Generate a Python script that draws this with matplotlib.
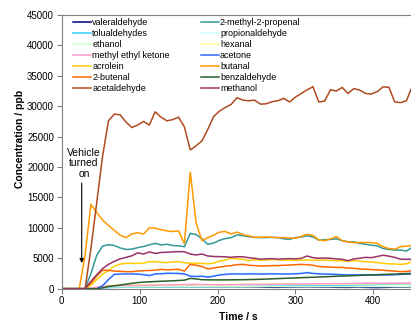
import matplotlib
matplotlib.use("Agg")
import matplotlib.pyplot as plt
import numpy as np

plt.rcParams['font.family'] = ['Liberation Sans', 'DejaVu Sans']

# time grid (s)
time_s = [7.5 * i for i in range(61)]

valeraldehyde = [0, 0, 0, 0, 0, 50, 150, 250, 300, 320, 330, 330, 340, 340, 330, 330, 340, 340, 330, 330,
                 340, 330, 340, 330, 330, 320, 330, 330, 320, 330, 320, 320, 310, 300, 280, 250, 230, 240, 250, 270,
                 280, 290, 300, 290, 280, 270, 260, 240, 230, 220, 250, 270, 230, 200, 190, 210, 240, 270, 280, 290, 300]
mpropenal = [0, 0, 0, 0, 0, 2500, 5500, 7000, 7250, 7100, 6700, 6450, 6500, 6750, 6950, 7200, 7450, 7200, 7300, 7100,
             7050, 6900, 9100, 8900, 8200, 7300, 7500, 7950, 8250, 8400, 8850, 8700, 8550, 8450, 8400, 8400, 8450, 8400, 8200, 8100,
             8400, 8500, 8700, 8500, 8000, 8050, 8100, 8200, 7900, 7700, 7700, 7450, 7300, 7150, 7050, 6600, 6450, 6350, 6350, 6200, 6800]
tolualdehydes = [0, 0, 0, 0, 0, 0, 50, 120, 180, 220, 250, 260, 270, 280, 280, 280, 290, 290, 300, 300,
                 300, 310, 320, 320, 320, 330, 330, 340, 340, 350, 360, 370, 380, 390, 400, 410, 420, 430, 440, 450,
                 460, 470, 480, 490, 500, 510, 520, 540, 560, 580, 600, 620, 640, 660, 680, 700, 720, 740, 760, 770, 780]
propionaldehyde = [0, 0, 0, 0, 0, 0, 0, 400, 1500, 2400, 2500, 2520, 2520, 2500, 2400, 2300, 2520, 2550, 2620, 2620,
                   2600, 2520, 2150, 2100, 2150, 2000, 2150, 2350, 2450, 2520, 2520, 2500, 2530, 2520, 2500, 2520, 2530, 2520, 2500, 2520,
                   2550, 2600, 2740, 2600, 2550, 2500, 2480, 2450, 2400, 2350, 2370, 2350, 2370, 2350, 2350, 2360, 2350, 2400, 2450, 2500, 2520]
ethanol = [0, 0, 0, 0, 0, 80, 180, 250, 300, 310, 320, 320, 320, 330, 330, 330, 330, 340, 340, 340,
           340, 340, 350, 350, 350, 350, 350, 350, 350, 350, 350, 350, 350, 350, 350, 350, 350, 350, 350, 350,
           350, 350, 350, 350, 350, 350, 350, 350, 350, 350, 350, 350, 350, 350, 350, 350, 350, 350, 350, 350, 350]
hexanal = [0, 0, 0, 0, 0, 100, 250, 400, 500, 550, 580, 600, 600, 620, 620, 630, 640, 640, 650, 650,
           660, 660, 680, 680, 670, 670, 670, 680, 680, 690, 690, 700, 700, 700, 710, 710, 720, 720, 730, 730,
           740, 740, 750, 750, 760, 760, 770, 770, 780, 780, 790, 790, 800, 800, 810, 810, 820, 820, 830, 830, 840]
mek = [0, 0, 0, 0, 0, 100, 250, 380, 450, 480, 500, 520, 530, 540, 550, 560, 580, 600, 620, 640,
       650, 660, 700, 690, 680, 670, 660, 660, 660, 670, 680, 690, 700, 700, 710, 720, 730, 740, 750, 760,
       770, 780, 790, 800, 810, 820, 830, 840, 850, 860, 870, 880, 890, 900, 900, 910, 920, 930, 930, 940, 940]
acetone = [0, 0, 0, 0, 0, 0, 0, 500, 1500, 2350, 2400, 2420, 2420, 2400, 2300, 2150, 2420, 2450, 2530, 2520,
           2500, 2420, 2050, 2000, 2050, 1900, 2050, 2250, 2350, 2420, 2420, 2400, 2430, 2420, 2400, 2420, 2430, 2420, 2400, 2420,
           2450, 2500, 2640, 2500, 2450, 2400, 2380, 2350, 2300, 2250, 2270, 2250, 2270, 2250, 2250, 2260, 2250, 2300, 2350, 2400, 2420]
acrolein = [0, 0, 0, 0, 0, 600, 1500, 2400, 3000, 3700, 4050, 4170, 4170, 4150, 4200, 4450, 4440, 4350, 4300, 4400,
            4450, 4270, 4200, 4170, 4150, 4100, 4200, 4550, 4700, 5000, 4900, 4850, 4600, 4750, 4700, 4720, 4800, 4750, 4700, 4700,
            4650, 4700, 4750, 4650, 4700, 4700, 4650, 4600, 4600, 4500, 4600, 4550, 4450, 4400, 4300, 4170, 4100, 4060, 4000, 4100, 4450]
butanal = [0, 0, 0, 0, 5500, 13900, 12500, 11300, 10400, 9600, 8800, 8400, 9000, 9200, 9000, 10000, 9950, 9700, 9500, 9400,
           9500, 7400, 19200, 10800, 7900, 8400, 8800, 9300, 9400, 9000, 9300, 8900, 8700, 8450, 8450, 8500, 8450, 8400, 8400, 8350,
           8300, 8600, 8950, 8750, 8000, 7900, 8200, 8550, 7900, 7700, 7550, 7600, 7600, 7600, 7450, 6900, 6600, 6500, 6900, 7000, 7100]
butenal = [0, 0, 0, 0, 0, 900, 2100, 3050, 3000, 2900, 2850, 2800, 2800, 2900, 2960, 3000, 3050, 3190, 3100, 3150,
           3190, 2900, 4000, 3850, 3650, 3250, 3400, 3550, 3700, 3800, 3950, 4000, 3850, 3800, 3730, 3750, 3800, 3800, 3850, 3900,
           3950, 4000, 3950, 3850, 3650, 3600, 3550, 3500, 3500, 3400, 3350, 3250, 3200, 3150, 3100, 3050, 2950, 2900, 2800, 2850, 2950]
benzaldehyde = [0, 0, 0, 0, 0, 0, 0, 150, 350, 480, 600, 750, 880, 1000, 1080, 1130, 1180, 1220, 1260, 1300,
                1350, 1400, 1700, 1600, 1480, 1460, 1450, 1450, 1450, 1460, 1470, 1480, 1500, 1520, 1550, 1580, 1620, 1660, 1700, 1730,
                1770, 1810, 1850, 1880, 1920, 1960, 2000, 2040, 2080, 2110, 2150, 2190, 2230, 2260, 2300, 2340, 2370, 2400, 2440, 2480, 2520]
acetaldehyde = [0, 0, 0, 0, 0, 6600, 14200, 21800, 27600, 28700, 28600, 27400, 26500, 26900, 27500, 26900, 29100, 28200, 27600, 27800,
                28200, 26600, 22800, 23500, 24300, 26200, 28300, 29200, 29800, 30300, 31400, 31000, 30900, 31000, 30350, 30400, 30750, 30900, 31300, 30700,
                31500, 32100, 32700, 33200, 30700, 30850, 32700, 32500, 33100, 32100, 32900, 32650, 32100, 32000, 32400, 33200, 33100, 30700, 30600, 30900, 33300]
methanol = [0, 0, 0, 0, 0, 1200, 2300, 3300, 4000, 4500, 4900, 5150, 5400, 5900, 5700, 6050, 5800, 5950, 6000, 6050,
            6100, 6080, 5700, 5550, 5700, 5380, 5300, 5270, 5250, 5160, 5250, 5250, 5100, 5000, 4850, 4900, 4950, 4850, 4900, 4950,
            4900, 5000, 5370, 5100, 5000, 5050, 5000, 4900, 4830, 4600, 4900, 5000, 5150, 5100, 5300, 5500, 5350, 5150, 4850, 4830, 4830]

series_names = ["valeraldehyde", "2-methyl-2-propenal", "tolualdehydes", "propionaldehyde",
                "ethanol", "hexanal", "methyl ethyl ketone", "acetone", "acrolein", "butanal",
                "2-butenal", "benzaldehyde", "acetaldehyde", "methanol"]
series_values = [valeraldehyde, mpropenal, tolualdehydes, propionaldehyde, ethanol, hexanal, mek,
                 acetone, acrolein, butanal, butenal, benzaldehyde, acetaldehyde, methanol]
series_colors = ["#000080", "#339999", "#33CCFF", "#CCFFFF", "#CCFFCC", "#FFFF99", "#FF99CC",
                 "#3366FF", "#FFCC00", "#FF9900", "#FF6600", "#2D5F2D", "#B04A20", "#993366"]

W, H = 411, 324
fig = plt.figure(figsize=(W / 100, H / 100), dpi=100)
ax = fig.add_axes([61.7 / W, (H - 288.7) / H, (412.3 - 61.7) / W, (288.7 - 15) / H])

handles = []
for name, vals, col in zip(series_names, series_values, series_colors):
    h, = ax.plot(time_s, vals, color=col, lw=1.1, label=name, solid_joinstyle='miter')
    handles.append(h)

ax.set_xlim(0, 450)
ax.set_ylim(0, 45000)
ax.set_xticks([0, 100, 200, 300, 400])
ax.set_yticks(range(0, 45001, 5000))
ax.tick_params(axis='both', labelsize=7, length=3.5, width=0.8, color='#808080', direction='out', pad=2)
for s in ax.spines.values():
    s.set_color('#808080')
    s.set_linewidth(0.8)

fig.text(238.8 / W, 1 - 317 / H, "Time / s", ha='center', va='center', fontsize=7.5, fontweight='bold')
fig.text(20 / W, 1 - 139 / H, "Concentration / ppb", ha='center', va='center', rotation=90,
         fontsize=7.5, fontweight='bold')

# legend: two columns
col1 = [0, 2, 4, 6, 8, 10, 12]
col2 = [1, 3, 5, 7, 9, 11, 13]
leg_kw = dict(frameon=False, fontsize=6.5, handlelength=2.0, handletextpad=0.15, labelspacing=0.22,
              borderpad=0, borderaxespad=0, loc='upper left')
leg1 = ax.legend([handles[i] for i in col1], [series_names[i] for i in col1],
                 bbox_to_anchor=(73 / W, 1 - 18 / H), bbox_transform=fig.transFigure, **leg_kw)
ax.add_artist(leg1)
leg2 = ax.legend([handles[i] for i in col2], [series_names[i] for i in col2],
                 bbox_to_anchor=(200.5 / W, 1 - 18 / H), bbox_transform=fig.transFigure, **leg_kw)

ax.text(28.6, 20600, "Vehicle\nturned\non", ha='center', va='center', fontsize=7.5, linespacing=1.05)
ax.annotate("", xy=(25.7, 4220), xytext=(25.7, 17370),
            arrowprops=dict(arrowstyle='-|>', lw=0.8, color='black', mutation_scale=6, shrinkA=0, shrinkB=0))

fig.savefig("out.png", dpi=100)
